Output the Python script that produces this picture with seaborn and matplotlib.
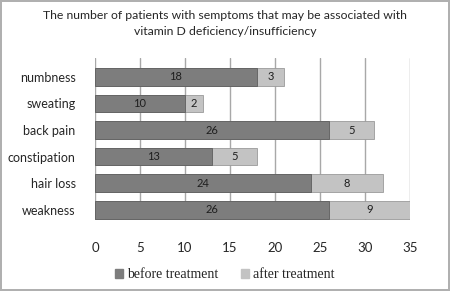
import pandas as pd
import seaborn as sns
import matplotlib.pyplot as plt
from matplotlib.patches import Patch

symptoms = ['numbness', 'sweating', 'back pain', 'constipation', 'hair loss', 'weakness']
before = [18, 10, 26, 13, 24, 26]
after = [3, 2, 5, 5, 8, 9]
xticks = [0, 5, 10, 15, 20, 25, 30, 35]

df = pd.DataFrame({'symptom': symptoms, 'before': before, 'after': after})
df['total'] = df['before'] + df['after']

sns.set_style('white')
plt.rcParams['font.family'] = ['Lato', 'DejaVu Sans']

fig = plt.figure(figsize=(4.5, 2.91), dpi=100)
fig.patch.set_edgecolor('#b0b0b0')
fig.patch.set_linewidth(1.5)
ax = fig.add_axes([0.211, 0.244, 0.70, 0.557])

# total first (light), then before on top (dark) -> stacked look
sns.barplot(x='total', y='symptom', data=df, orient='h', color='#c3c3c3',
            width=0.66, edgecolor='#9a9a9a', linewidth=0.6, ax=ax, zorder=3)
sns.barplot(x='before', y='symptom', data=df, orient='h', color='#7d7d7d',
            width=0.66, edgecolor='#5e5e5e', linewidth=0.6, ax=ax, zorder=4)

for i, row in df.iterrows():
    ax.text(row['before'] / 2, i, str(row['before']), ha='center', va='center',
            fontsize=8, color='#1e1e1e', zorder=5)
    ax.text(row['before'] + row['after'] / 2, i, str(row['after']), ha='center',
            va='center', fontsize=8, color='#1e1e1e', zorder=5)

ax.set_xlim(0, 35)
ax.set_ylim(5.38, -0.71)
ax.set_xticks(xticks)
ax.grid(axis='x', color='#a8a8a8', linewidth=1)
ax.set_axisbelow(True)
for s in ax.spines.values():
    s.set_visible(False)
ax.set_xlabel('')
ax.set_ylabel('')
ax.tick_params(axis='x', pad=16, labelsize=9.5, length=0)
ax.tick_params(axis='y', pad=14, labelsize=9, length=0)

fig.suptitle('The number of patients with semptoms that may be associated with\nvitamin D deficiency/insufficiency',
             x=0.5, y=0.965, fontsize=8.8, linespacing=1.5)

handles = [Patch(color='#7d7d7d'), Patch(color='#c3c3c3')]
fig.legend(handles, ['before treatment', 'after treatment'], loc='center',
           bbox_to_anchor=(0.5, 0.055), ncol=2, frameon=False, handlelength=0.6,
           handleheight=0.6, handletextpad=0.3, columnspacing=1.6,
           prop={'family': 'Liberation Serif', 'size': 10})

fig.savefig('out.png', dpi=100, edgecolor=fig.get_edgecolor())
